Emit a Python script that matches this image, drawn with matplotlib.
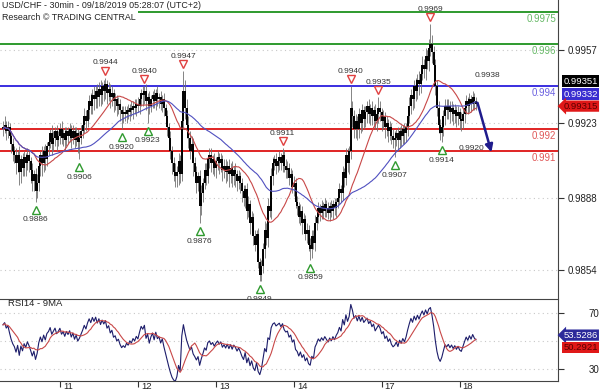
import matplotlib
matplotlib.use("Agg")
import matplotlib.pyplot as plt
import numpy as np
import pandas as pd
from matplotlib.transforms import offset_copy, ScaledTranslation

# USD/CHF 30min bars, closes in pips above 0.9800
close_pips = [
    120, 122, 119, 121, 117, 113, 110, 108, 104, 108, 100, 106, 102,
    107, 104, 108, 105, 101, 96, 99, 91, 95, 103, 108, 104, 110, 106, 112,
    114, 118, 113, 116, 119, 115, 117, 120, 116, 118, 115, 119,
    117, 120, 116, 119, 115, 118, 114, 116, 119, 122, 126, 124, 129, 133, 131,
    136, 134, 138, 135, 139, 136, 140, 138, 141, 137, 139, 135, 137, 133,
    134, 131, 132, 129, 127, 128, 127, 129, 128, 130, 129, 131, 130, 132, 131,
    134, 137, 136, 138, 133, 135, 131, 134, 136, 133, 137, 134, 135, 132, 134, 130,
    126, 121, 116, 110, 104, 100, 98, 100, 105, 99, 124, 138, 130, 122,
    116, 110, 113, 104, 100, 95, 98, 84, 90, 95, 101, 98, 106, 108,
    104, 106, 102, 105, 107, 104, 106, 101, 103,
    100, 103, 99, 102, 98, 101, 99, 96, 98, 95, 91, 88, 92, 82, 85, 76, 79,
    70, 66, 71, 58, 52, 56, 64, 73, 69, 84, 82, 98,
    104, 106, 103, 105, 107, 104, 108, 103, 101, 102, 97, 99, 93, 95, 86,
    84, 79, 82, 76, 78, 71, 73, 66, 64, 70, 67, 76, 79,
    83, 81, 84, 82, 85, 83, 81, 84, 82, 85, 83, 86, 88,
    92, 90, 100, 97, 108, 104, 110, 130, 126, 120,
    124, 120, 127, 123, 129, 125, 128, 131, 127, 130, 126, 129, 124, 127, 130,
    128, 124, 126, 121, 123, 119, 121, 117, 115,
    116, 118, 115, 119, 117, 120, 118, 121, 126, 131, 136, 134, 140, 138, 143, 141,
    146, 150, 148, 154, 152, 158, 160, 156, 150, 140, 130, 122, 118,
    121, 126, 131, 129, 131, 128, 130, 127, 129, 126, 128, 125, 124,
    127, 130, 133, 131, 134, 132, 135, 133, 132,
]
wick_up = [
    3, 4, 2, 3, 2, 2, 3, 2, 3, 2, 4, 2, 3,
    3, 2, 3, 2, 2, 3, 2, 3, 4, 3, 2, 4, 2, 3, 2,
    3, 2, 4, 3, 2, 3, 2, 3, 4, 2, 3, 2,
    2, 3, 2, 3, 2, 3, 2, 3, 3, 3, 4, 3, 4, 3, 4,
    3, 4, 2, 3, 3, 4, 2, 3, 3, 2, 3, 2, 3, 2,
    3, 2, 3, 2, 2, 3, 3, 2, 3, 2, 3, 2, 3, 2, 3,
    3, 2, 3, 2, 3, 2, 3, 2, 2, 3, 2, 3, 2, 3, 2, 3,
    2, 3, 2, 3, 2, 3, 4, 3, 4, 3, 8, 9, 5, 4,
    4, 3, 4, 3, 3, 3, 2, 3, 4, 2, 3, 3, 2, 3,
    3, 2, 3, 2, 3, 2, 3, 2, 3,
    3, 2, 3, 2, 3, 2, 3, 2, 3, 2, 2, 3, 2, 3, 4, 2, 3,
    2, 3, 2, 3, 2, 3, 3, 4, 3, 4, 3, 4,
    3, 2, 3, 2, 3, 2, 3, 2, 3, 3, 2, 3, 2, 3, 2,
    3, 2, 3, 2, 3, 2, 3, 2, 3, 3, 3, 4, 3,
    3, 2, 3, 2, 3, 2, 3, 2, 3, 2, 3, 2, 3,
    3, 2, 3, 2, 3, 3, 2, 10, 3, 3,
    3, 2, 3, 2, 3, 2, 3, 2, 3, 2, 3, 2, 3, 2, 5,
    3, 2, 3, 2, 3, 2, 3, 2, 3,
    3, 2, 3, 2, 3, 2, 3, 2, 3, 4, 3, 4, 3, 4, 3, 4,
    3, 4, 3, 4, 3, 4, 9, 4, 3, 3, 3, 3, 3,
    3, 3, 3, 3, 3, 2, 3, 2, 3, 2, 3, 2, 3,
    3, 2, 3, 2, 3, 2, 3, 2, 2,
]
wick_dn = [
    3, 2, 4, 3, 3, 4, 5, 4, 5, 4, 6, 5, 4,
    4, 6, 3, 5, 6, 5, 5, 5, 3, 4, 5, 6, 4, 5, 3,
    4, 3, 5, 3, 4, 5, 3, 4, 3, 4, 5, 3,
    4, 3, 5, 3, 4, 3, 5, 8, 3, 3, 4, 5, 3, 4, 4,
    4, 5, 4, 5, 4, 5, 4, 5, 4, 5, 4, 5, 4, 5,
    4, 5, 4, 5, 7, 4, 3, 4, 3, 4, 3, 4, 3, 4, 3,
    4, 3, 5, 4, 4, 10, 4, 3, 4, 3, 4, 3, 4, 3, 4, 4,
    3, 4, 3, 4, 5, 4, 5, 5, 6, 4, 3, 4, 5, 6,
    5, 4, 5, 6, 4, 5, 4, 8, 4, 4, 3, 4, 3, 4,
    4, 5, 4, 5, 4, 5, 4, 5, 4,
    5, 4, 6, 4, 5, 4, 6, 5, 4, 5, 5, 4, 5, 4, 3, 5, 4,
    4, 3, 4, 3, 3, 3, 3, 4, 3, 4, 3, 4,
    4, 3, 4, 3, 4, 3, 4, 3, 4, 4, 3, 4, 3, 4, 3,
    4, 3, 4, 5, 4, 3, 4, 3, 5, 4, 3, 4, 3,
    3, 4, 3, 4, 3, 4, 3, 4, 3, 4, 3, 4, 3,
    3, 4, 3, 4, 3, 4, 5, 4, 5, 4,
    4, 5, 4, 5, 4, 5, 4, 5, 4, 5, 4, 5, 4, 5, 4,
    4, 5, 4, 5, 4, 5, 4, 4, 4,
    8, 4, 5, 4, 5, 4, 5, 4, 4, 3, 4, 5, 4, 5, 4, 5,
    4, 3, 4, 5, 4, 5, 4, 5, 5, 4, 4, 4, 3,
    4, 4, 4, 4, 4, 5, 4, 5, 4, 5, 4, 5, 5,
    4, 4, 3, 4, 3, 4, 3, 4, 3,
]

day_ticks = [35, 83, 131, 179, 233, 281]
day_labels = ["11", "12", "13", "14", "17", "18"]

low_marks = [(20, 0.9886), (47, 0.9906), (73, 0.9920), (89, 0.9923), (121, 0.9876),
             (158, 0.9849), (189, 0.9859), (241, 0.9907), (270, 0.9914)]
high_marks = [(63, 0.9944), (87, 0.9940), (111, 0.9947), (172, 0.9911),
              (214, 0.9940), (231, 0.9935), (263, 0.9969)]

levels = [0.9975, 0.996, 0.994, 0.992, 0.991]
level_text = ["0.9975", "0.996", "0.994", "0.992", "0.991"]
level_colors = ["#2e9a2e", "#2e9a2e", "#3a2ee0", "#e02424", "#e02424"]
level_text_colors = ["#66b866", "#66b866", "#6a60e0", "#e05858", "#e05858"]

price_ticks = [0.9957, 0.9923, 0.9888, 0.9854]
forecast_start = (291.5, 0.99336)
forecast_end = (301, 0.99080)
forecast_labels = [(298, 0.99453, "0.9938"), (288.5, 0.99112, "0.9920")]

last_price_boxes = [("0.99351", 0.99425, "black", "white"),
                    ("0.99332", 0.99364, "#3a2ed0", "white"),
                    ("0.99315", 0.99308, "#e01818", "#5a0000")]
rsi_boxes = [("53.5286", 54.2, "#2c2a9a", "white"), ("50.2921", 45.6, "#e01818", "#5a0000")]

# ---- derived series ----
close = 0.98 + np.array(close_pips) / 10000
open_ = np.r_[close[0] + 0.0001, close[:-1]]
high = np.maximum(open_, close) + np.array(wick_up) / 10000
low = np.minimum(open_, close) - np.array(wick_dn) / 10000
x = np.arange(len(close))

s = pd.Series(close)
ma_fast = s.rolling(20, min_periods=1).mean()
ma_slow = s.rolling(50, min_periods=1).mean()

# Wilder RSI(14), seeded so the first bar sits near the reference start
avg_g, avg_l = 2.4e-4, 1.5e-4
rsi = []
for d in np.r_[0, np.diff(close)]:
    avg_g = (avg_g * 13 + max(d, 0)) / 14
    avg_l = (avg_l * 13 + max(-d, 0)) / 14
    rsi.append(100 - 100 / (1 + avg_g / avg_l))
rsi = pd.Series(rsi)
rsi_ma = rsi.rolling(9, min_periods=1).mean()

plt.rcParams["font.family"] = ["Liberation Sans", "DejaVu Sans"]
fig = plt.figure(figsize=(6, 3.92), dpi=100)
ax = fig.add_axes([0, 94 / 392, 558 / 600, 298 / 392])
ax2 = fig.add_axes([0, 11 / 392, 558 / 600, 82 / 392])

xmin, xmax = -1.85, 341.5
grid_kw = dict(color="#c8c8c8", lw=0.8, ls=(0, (1, 3)), zorder=0)

# ---- price panel ----
for p in price_ticks:
    ax.axhline(p, **grid_kw)
ax.vlines(x, low, high, color="#707070", lw=0.6, zorder=2)
ax.vlines(x, open_, close, color="black", lw=1.4, zorder=3)
ax.plot(x, ma_fast, color="#c84848", lw=0.8, zorder=4)
ax.plot(x, ma_slow, color="#5050c0", lw=0.8, zorder=4)

for lv, t, c, tc in zip(levels, level_text, level_colors, level_text_colors):
    ax.axhline(lv, color=c, lw=1.4, zorder=1)
    ax.text(xmax - 1, lv, t, color=tc, fontsize=7, ha="right", va="top",
            transform=offset_copy(ax.transData, fig, y=-2, units="dots"))

below_m = offset_copy(ax.transData, fig, y=-8, units="dots")
below_t = offset_copy(ax.transData, fig, y=-18, units="dots")
above_m = offset_copy(ax.transData, fig, y=7, units="dots")
above_t = offset_copy(ax.transData, fig, y=15, units="dots")
for i, v in low_marks:
    ax.plot(i, v, marker="^", ms=6, mfc="white", mec="#2f9a2f", mew=1, transform=below_m, zorder=5)
    ax.text(i, v, f"{v:.4f}", fontsize=6, color="#333333", ha="center", va="center", transform=below_t)
for i, v in high_marks:
    ax.plot(i, v, marker="v", ms=6, mfc="white", mec="#e04040", mew=1, transform=above_m, zorder=5)
    ax.text(i, v, f"{v:.4f}", fontsize=6, color="#333333", ha="center", va="center", transform=above_t)

ax.annotate("", xy=forecast_end, xytext=forecast_start,
            arrowprops=dict(arrowstyle="-|>", color="#1f1b8c", lw=1.8, mutation_scale=11))
for fx, fy, t in forecast_labels:
    ax.text(fx, fy, t, fontsize=6, color="#333333", ha="center", va="center")

ax.set_xlim(xmin, xmax)
ax.set_ylim(0.98 + 41.1 / 10000, 0.98 + 180.4 / 10000)
ax.set_xticks([])
ax.yaxis.tick_right()
ax.set_yticks(price_ticks)
ax.set_yticklabels([f"{p:.4f}" for p in price_ticks])
ax.tick_params(axis="y", length=4, width=0.8, color="#333333", labelsize=7, pad=3, labelcolor="#222222")
for side in ["left", "top", "bottom"]:
    ax.spines[side].set_visible(False)
ax.spines["right"].set_color("#444444")

ytr = ax.get_yaxis_transform()
for t, yv, bg, fg in last_price_boxes:
    style = "larrow,pad=0.12" if bg == "#e01818" else "square,pad=0.12"
    ax.text(1.01, yv, t, transform=ytr, fontsize=6.8, color=fg, ha="left", va="center",
            bbox=dict(boxstyle=style, fc=bg, ec="none"), clip_on=False)

fig.text(2 / 600, 1 - 6 / 392, "USD/CHF - 30min - 09/18/2019 05:28:07 (UTC+2)",
         fontsize=6.4, color="#222222", va="center", ha="left")
fig.text(2 / 600, 1 - 17 / 392, "Research \u00a9 TRADING CENTRAL", fontsize=6.4,
         color="#222222", va="center", ha="left",
         bbox=dict(boxstyle="square,pad=0.3", fc="white", ec="none"), zorder=10)

# ---- RSI panel ----
for r in [70, 50, 30]:
    ax2.axhline(r, **grid_kw)
ax2.plot(x, rsi, color="#1c1c6a", lw=0.8)
ax2.plot(x, rsi_ma, color="#c84848", lw=0.8)
ax2.set_xlim(xmin, xmax)
ax2.set_ylim(21.4, 80)
ax2.yaxis.tick_right()
ax2.set_yticks([70, 30])
ax2.tick_params(axis="y", length=4, width=0.8, color="#333333", labelsize=7, pad=26, labelcolor="#222222")
for lbl in ax2.get_yticklabels():
    lbl.set_ha("right")
ax2.set_xticks(day_ticks)
ax2.set_xticklabels(day_labels)
ax2.tick_params(axis="x", length=4, width=0.8, color="#333333", labelsize=6.8, pad=-3, labelcolor="#222222")
shift = ScaledTranslation(3 / 100, 0, fig.dpi_scale_trans)
for lbl in ax2.get_xticklabels():
    lbl.set_ha("left")
    lbl.set_transform(lbl.get_transform() + shift)
ax2.spines["left"].set_visible(False)
for side in ["right", "top", "bottom"]:
    ax2.spines[side].set_color("#444444")
ax2.text(3, 76.5, "RSI14 - 9MA", fontsize=6.8, color="#222222", va="center", ha="left")
ytr2 = ax2.get_yaxis_transform()
for t, yv, bg, fg in rsi_boxes:
    style = "larrow,pad=0.12" if bg == "#2c2a9a" else "square,pad=0.12"
    ax2.text(1.01, yv, t, transform=ytr2, fontsize=6.8, color=fg, ha="left", va="center",
             bbox=dict(boxstyle=style, fc=bg, ec="none"), clip_on=False)

fig.savefig("out.png", dpi=100)
